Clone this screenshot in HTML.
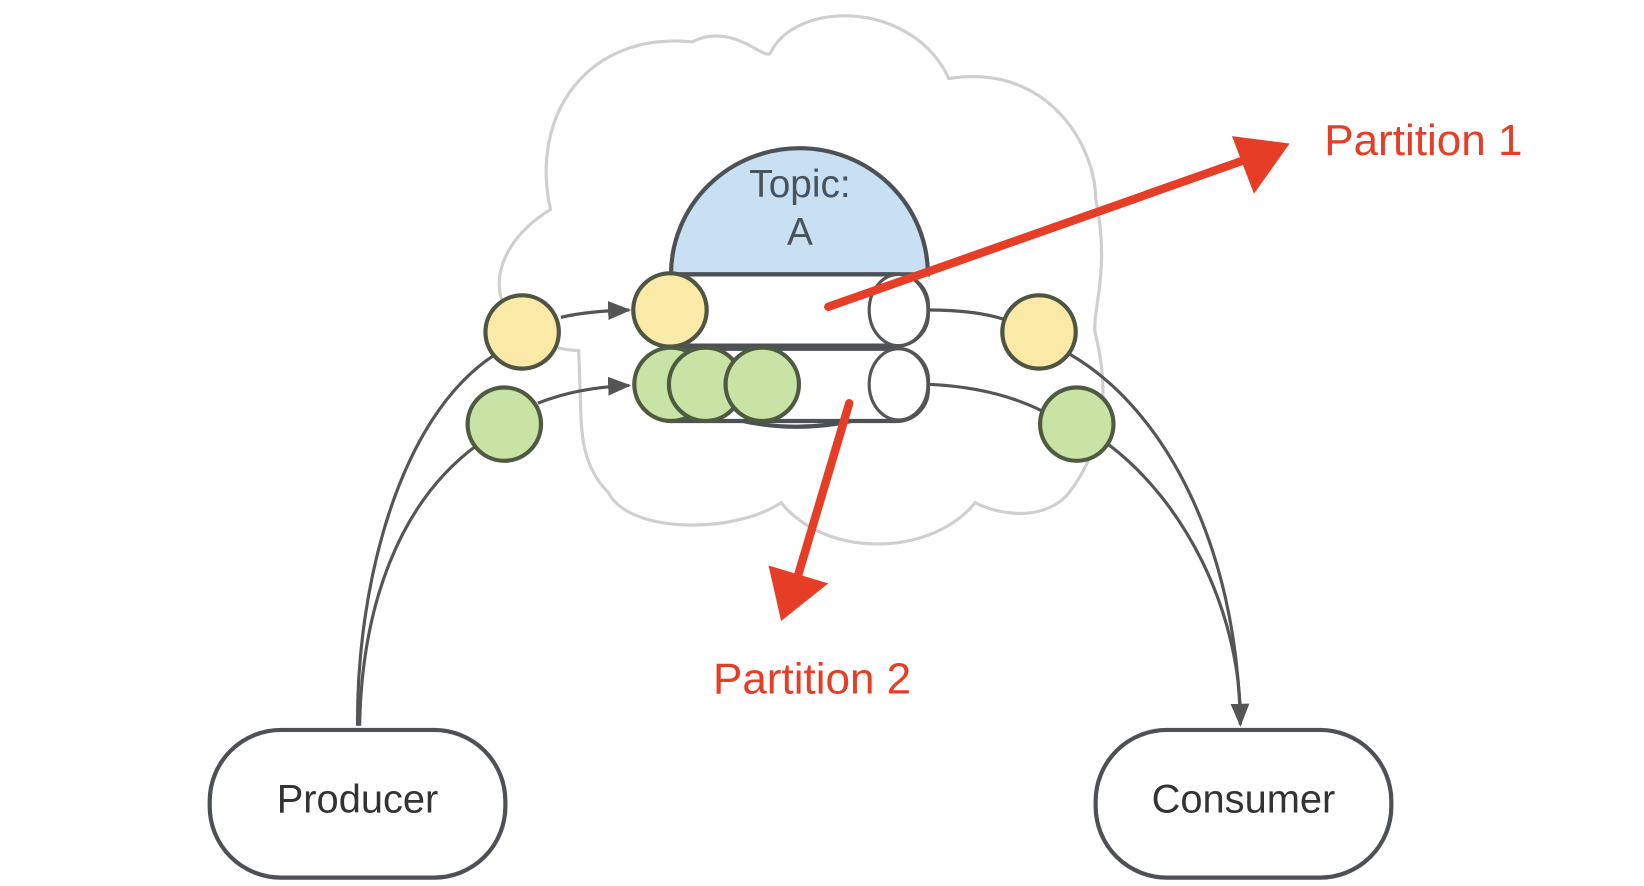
<!DOCTYPE html>
<html><head><meta charset="utf-8"><style>
html,body{margin:0;padding:0;background:#fff;}
svg{display:block}
</style></head><body>
<svg width="1644" height="886" viewBox="0 0 1568 846" preserveAspectRatio="none" xmlns="http://www.w3.org/2000/svg">
<defs>
<marker id="ah" markerWidth="22" markerHeight="18" refX="20" refY="9" orient="auto" markerUnits="userSpaceOnUse"><path d="M0,0 L22,9 L0,18 z" fill="#555"/></marker>
</defs>
<!-- cloud -->
<path d="M552,335 C470,330 445,250 525,200 C505,110 560,30 660,40 C700,20 730,60 735,50 C760,0 870,0 905,75 C1000,60 1045,140 1045,190 C1060,260 1040,300 1045,320 C1060,380 1050,430 1020,470 C1000,495 960,495 930,480 C890,530 790,535 745,480 C700,510 600,510 580,470 C550,440 555,400 553,365 Z" fill="#fff" stroke="#cfcfcf" stroke-width="3"/>
<!-- dome -->
<path d="M640,262 A122,120 0 0 1 885,262 Z" fill="#c7e0f4" stroke="#4d5155" stroke-width="4"/>
<text x="763" y="188" font-family="Liberation Sans, sans-serif" font-size="37" fill="#4a525a" text-anchor="middle">Topic:</text>
<text x="763" y="234" font-family="Liberation Sans, sans-serif" font-size="37" fill="#4a525a" text-anchor="middle">A</text>
<!-- partitions -->
<path d="M700,400 Q760,415 820,400" fill="none" stroke="#4d5155" stroke-width="4"/>
<rect x="610" y="262" width="275" height="68" rx="30" fill="#fff" stroke="#4d5155" stroke-width="4"/>
<rect x="610" y="333" width="275" height="69" rx="30" fill="#fff" stroke="#4d5155" stroke-width="4"/>
<ellipse cx="857" cy="296" rx="28" ry="34" fill="#fff" stroke="#555" stroke-width="3"/>
<ellipse cx="857" cy="367" rx="28" ry="34" fill="#fff" stroke="#555" stroke-width="3"/>
<ellipse cx="639" cy="296" rx="35" ry="35" fill="#fbe9a8" stroke="#4f5443" stroke-width="4"/>
<ellipse cx="640" cy="367" rx="35" ry="35" fill="#c9e3a5" stroke="#4f5a43" stroke-width="4"/>
<ellipse cx="673" cy="367" rx="35" ry="35" fill="#c9e3a5" stroke="#4f5a43" stroke-width="4"/>
<ellipse cx="727" cy="367" rx="35" ry="35" fill="#c9e3a5" stroke="#4f5a43" stroke-width="4"/>
<!-- connectors -->
<path d="M535,303 Q560,297 600,296" fill="none" stroke="#555" stroke-width="3" marker-end="url(#ah)"/>
<path d="M513,385 Q550,370 600,368" fill="none" stroke="#555" stroke-width="3" marker-end="url(#ah)"/>
<path d="M886,296 Q930,296 958,305" fill="none" stroke="#555" stroke-width="3"/>
<path d="M886,367 Q950,370 995,393" fill="none" stroke="#555" stroke-width="3"/>
<path d="M341,693 C340,560 380,400 470,340" fill="none" stroke="#555" stroke-width="3"/>
<path d="M343,693 C345,580 380,480 455,425" fill="none" stroke="#555" stroke-width="3"/>
<path d="M1020,338 C1110,390 1180,520 1183,692" fill="none" stroke="#555" stroke-width="3" marker-end="url(#ah)"/>
<path d="M1058,425 C1130,480 1180,580 1183,680" fill="none" stroke="#555" stroke-width="3"/>
<ellipse cx="498" cy="317" rx="35" ry="35" fill="#fbe9a8" stroke="#4f5443" stroke-width="4"/>
<ellipse cx="481" cy="405" rx="35" ry="35" fill="#c9e3a5" stroke="#4f5a43" stroke-width="4"/>
<ellipse cx="991" cy="317" rx="35" ry="35" fill="#fbe9a8" stroke="#4f5443" stroke-width="4"/>
<ellipse cx="1027" cy="405" rx="35" ry="35" fill="#c9e3a5" stroke="#4f5a43" stroke-width="4"/>
<!-- boxes -->
<rect x="200" y="697" width="282" height="141" rx="68" fill="#fff" stroke="#4d5155" stroke-width="4"/>
<text x="341" y="776" font-family="Liberation Sans, sans-serif" font-size="38" fill="#333" text-anchor="middle">Producer</text>
<rect x="1045" y="697" width="282" height="141" rx="68" fill="#fff" stroke="#4d5155" stroke-width="4"/>
<text x="1186" y="776" font-family="Liberation Sans, sans-serif" font-size="38" fill="#333" text-anchor="middle">Consumer</text>
<!-- red arrows -->
<line x1="790" y1="293" x2="1195" y2="150" stroke="#e63e26" stroke-width="8" stroke-linecap="round"/>
<path d="M1230,137 L1175,130 L1196,185 Z" fill="#e63e26"/>
<line x1="810" y1="385" x2="758" y2="560" stroke="#e63e26" stroke-width="8" stroke-linecap="round"/>
<path d="M745,593 L733,540 L790,557 Z" fill="#e63e26"/>
<text x="1263" y="148" font-family="Liberation Sans, sans-serif" font-size="42" fill="#e63e26">Partition 1</text>
<text x="680" y="662" font-family="Liberation Sans, sans-serif" font-size="42" fill="#e63e26">Partition 2</text>
</svg>
</body></html>
